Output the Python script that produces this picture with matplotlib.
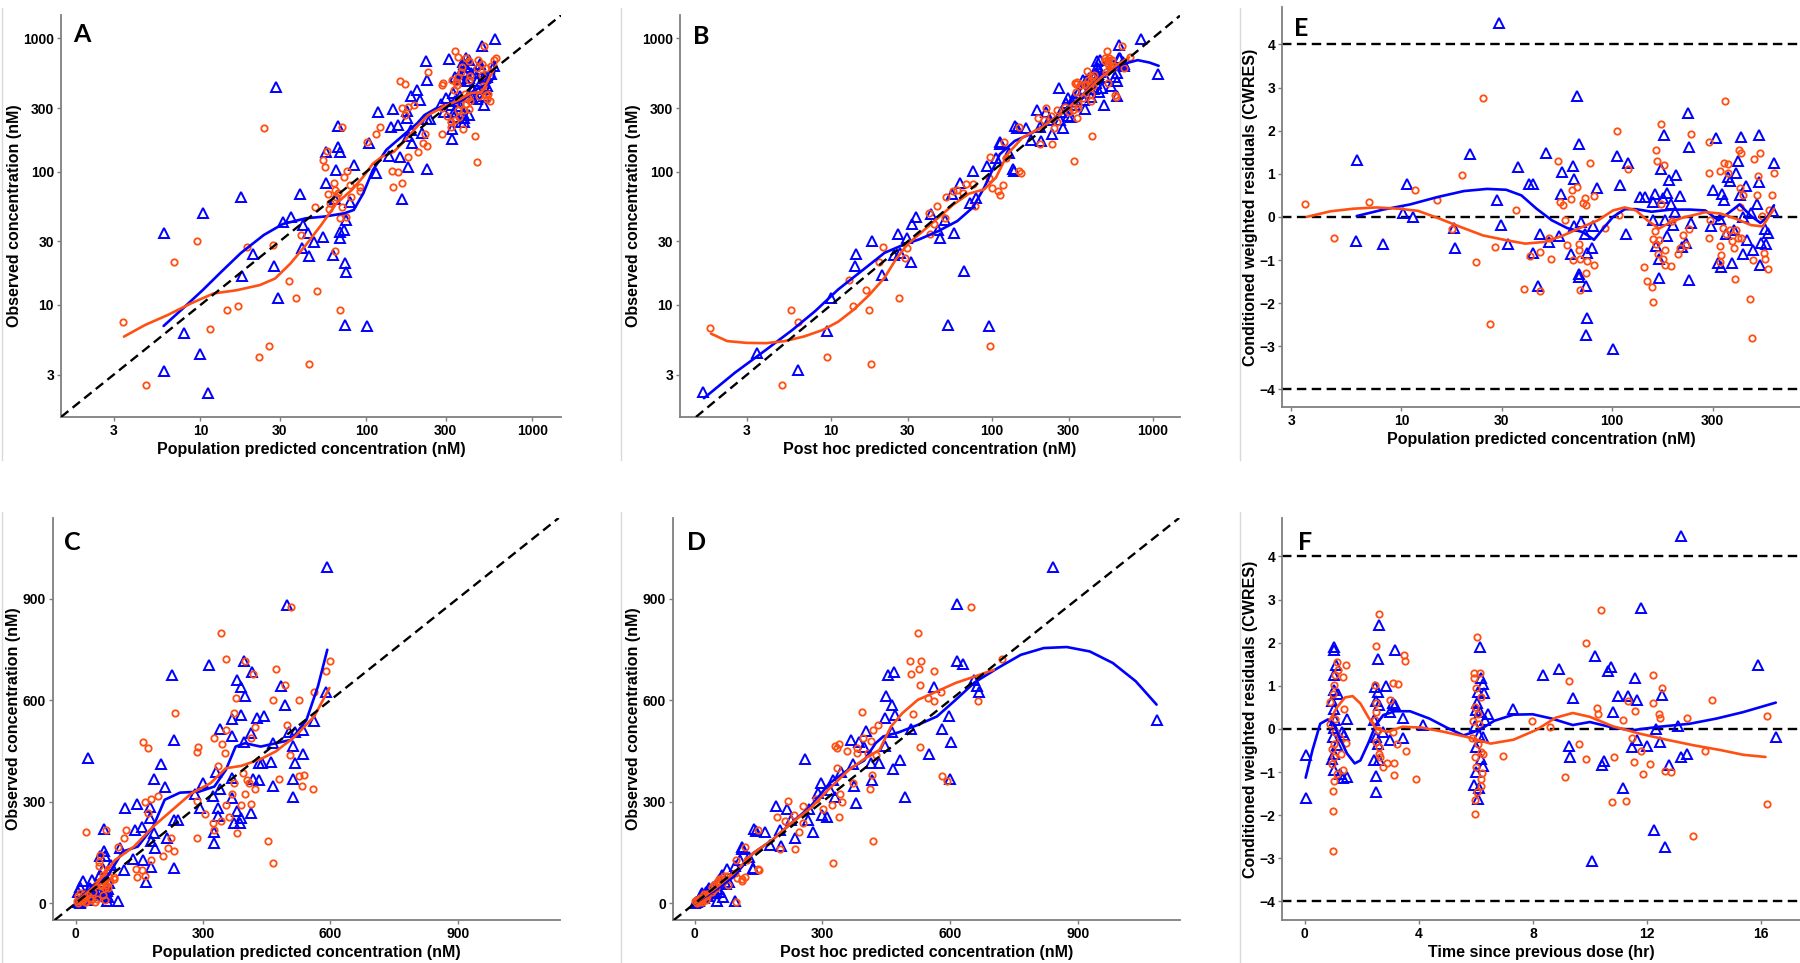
import matplotlib
matplotlib.use("Agg")
import matplotlib.pyplot as plt
from matplotlib.lines import Line2D

plt.rcParams['font.family'] = ['Liberation Sans', 'DejaVu Sans']
plt.rcParams['font.weight'] = 'bold'

BLUE = "#0000FF"
ORANGE = "#FF4F12"

# ---- population predictions vs observed (panels A and C) ----
pop_pred_blue = [6.0, 6.0, 8.0, 10.0, 10.4, 11.1, 17.5, 17.8, 20.7, 27.9, 28.5, 29.4, 31.4, 35.3,
                 39.9, 41.4, 41, 44.4, 45, 48.5, 54.8, 57.2, 57.2, 63.3, 64.3, 65.3, 67.1, 67.8,
                 69.6, 69, 69.6, 73.5, 75.4, 74.7, 75.4, 74.3, 79.5, 83.9, 101, 104, 115, 117,
                 593, 497, 314, 397, 416, 228, 381, 390, 399, 483, 493, 591, 562, 390, 368, 428,
                 444, 341, 413, 535, 517, 503, 368, 397, 233, 464, 513, 535, 432, 439, 461, 518,
                 201, 332, 417, 433, 512, 464, 368, 186, 210, 300, 512, 282, 323, 341, 368, 145,
                 176, 293, 336, 381, 413, 335, 390, 374, 388, 176, 233, 242, 140, 156, 186, 215,
                 178, 327, 327, 233, 136, 160, 177, 165, 188]
obs_blue = [34.5, 3.2, 6.2, 4.3, 49, 2.2, 65, 16.6, 24.1, 19.7, 429, 11.2, 42, 45.4,
            68, 39.8, 26.6, 34.5, 23.4, 29.9, 32.2, 140, 82.7, 23.9, 62, 103, 220, 154,
            141, 31.6, 35.5, 36.5, 43.4, 20.8, 17.8, 7.1, 59.6, 112, 7.0, 163, 97.2, 282,
            993, 882, 705, 715, 682, 673, 661, 638, 613, 643, 587, 623, 540, 555, 544, 547,
            552, 515, 503, 513, 505, 506, 493, 478, 483, 475, 466, 441, 416, 416, 419, 416,
            411, 389, 367, 363, 367, 348, 370, 367, 345, 357, 314, 323, 316, 337, 311, 294,
            286, 281, 281, 274, 268, 258, 251, 237, 237, 251, 247, 247, 217, 225, 207, 194,
            185, 210, 177, 105, 130, 128, 108, 62, 163]
pop_pred_orange = [3.4, 4.7, 6.9, 9.6, 11.4, 14.5, 16.8, 19.0, 22.4, 24.0, 25.8, 27.5, 34.4, 37.4,
                   40.5, 45.1, 49.3, 50.6, 54.8, 56.3, 57.8, 58.4, 59.4, 60, 63.7, 64.3, 64.7, 66,
                   67.8, 69, 70.8, 69.6, 71.5, 73.5, 76.7, 75.4, 79.5, 80.9, 90.9, 101,
                   508, 343, 354, 600, 399, 472, 589, 417, 494, 562, 377, 464, 526, 235, 374, 354,
                   422, 498, 327, 413, 345, 289, 286, 352, 505, 160, 170, 336, 395, 404, 408, 539,
                   526, 479, 533, 559, 374, 398, 422, 368, 286, 305, 354, 390, 413, 361, 343, 323,
                   325, 381, 286, 454, 464, 163, 177, 194, 170, 120, 115, 142, 145, 156, 163, 178,
                   206, 233, 91, 224, 219]
obs_orange = [7.4, 2.5, 21.1, 30.4, 6.6, 9.2, 9.8, 27.1, 4.05, 211, 4.9, 28.2, 15.2, 11.2,
              33.5, 3.6, 54, 12.8, 122, 109, 144, 67.6, 52.6, 57.9, 82.7, 72.9, 25.6, 65,
              68.9, 44.7, 217, 9.2, 54.7, 91.7, 101.7, 45.4, 79.4, 65, 72, 168,
              876, 797, 723, 715, 715, 693, 687, 678, 646, 624, 606, 600, 600, 562, 562, 513,
              521, 528, 488, 488, 470, 463, 447, 444, 439, 478, 458, 407, 385, 363, 355, 380,
              375, 368, 348, 338, 355, 323, 338, 323, 301, 263, 291, 291, 293, 256, 244, 237,
              217, 209, 192, 185, 118, 298, 308, 317, 268, 217, 192, 101, 77, 99, 82, 128,
              141, 156, 77, 192, 163]

# loess lines, panel A (log scale) and panel C (linear scale)
smoothA_blue_x = [6.0, 7.9, 10.3, 13.4, 17.5, 24.1, 31.4, 43.2, 56.3, 73.5, 83.9, 95.8, 109.5, 131.8,
                  163, 202, 224, 263, 325, 381, 448, 525, 584, 594]
smoothA_blue_y = [6.96, 9.5, 12.9, 17.8, 24.5, 33.5, 40.5, 44.7, 46.1, 48.7, 51.6, 68.8, 103, 145.6,
                  183, 230, 266, 298, 316, 345, 409, 447, 501, 660]
smoothA_orange_x = [3.46, 4.64, 6.34, 8.8, 12.0, 16.5, 22.8, 28.2, 34.9, 43.2, 53.4, 66.1, 81.7, 95.8,
                    109.5, 125, 146.6, 172, 202, 236, 292, 361, 424, 498, 584, 606]
smoothA_orange_y = [5.79, 7.08, 8.4, 10.3, 12.2, 12.9, 14.1, 15.8, 20.5, 28.2, 39.8, 57.9, 72.9, 91.7,
                    115, 130, 141, 173, 218, 266, 307, 345, 387, 398, 579, 632]
smoothC_blue_x = [2.7, 39, 75, 111, 147, 183, 210, 246, 291, 327, 354, 377, 399, 436, 472, 508, 544, 571, 593]
smoothC_blue_y = [5, 49, 79, 153, 168, 227, 306, 327, 330, 345, 394, 463, 473, 463, 473, 483, 542, 641, 749]
smoothC_orange_x = [2.7, 48, 93, 138, 183, 228, 273, 318, 354, 390, 436, 472, 517, 562, 598]
smoothC_orange_y = [5, 54, 128, 168, 227, 276, 325, 355, 399, 406, 426, 449, 493, 552, 636]

# ---- post hoc predictions vs observed (panels B and D) ----
ipred_blue = [1.6, 3.44, 6.24, 9.4, 10.05, 14.1, 14.4, 18.0, 20.7, 24.8, 26.0, 26.7, 29.8, 31.5,
              31.9, 33.7, 42.0, 46.4, 47.7, 51.2, 53.2, 56.2, 58.4, 63.4, 66.9, 72.7, 76.0, 79.4,
              93.6, 95.7, 106, 112, 137, 143,
              841, 616, 1087, 616, 631, 454, 468, 449, 463, 562, 657, 667, 662, 447, 470, 598,
              508, 580, 463, 402, 368, 386, 398, 447, 602, 551, 483, 434, 414, 371, 465, 600,
              416, 495, 260, 344, 326, 297, 375, 378, 317, 290, 330, 299, 310, 268, 216, 191,
              236, 278, 200, 164, 140, 136, 112, 128, 176, 203, 227, 266]
obs2_blue = [2.24, 4.36, 3.27, 6.34, 11.3, 19.5, 24.2, 30.1, 16.9, 23.9, 33.8, 24.4, 31.6, 21.1,
             40.2, 45.6, 47.8, 36.8, 31.9, 43.1, 7.1, 68.4, 34.8, 82.7, 18.1, 58.5, 101, 63.8,
             110, 7.0, 127, 160, 102, 214,
             994, 884, 542, 715, 708, 673, 682, 613, 587, 638, 660, 623, 641, 547, 555, 554,
             515, 515, 505, 508, 483, 478, 463, 466, 476, 441, 422, 416, 416, 411, 396, 368,
             365, 315, 426, 389, 365, 357, 347, 296, 335, 327, 315, 261, 256, 278, 279, 289,
             192, 212, 217, 212, 219, 105, 166, 138, 173, 170, 246, 246]
ipred_orange = [1.76, 4.92, 5.65, 6.24, 9.5, 12.9, 13.7, 16.6, 17.3, 17.8, 20.0, 20.9, 26.3, 29.0,
                29.8, 40.4, 41.1, 43.4, 45.6, 50.9, 51.7, 57.1, 61.0, 66.2, 69.2, 76.8, 78.1, 95.7,
                97.3, 100, 112, 117, 123, 151,
                649, 524, 506, 532, 721, 528, 562, 508, 530, 578, 548, 562, 666, 393, 512, 419,
                430, 396, 413, 329, 338, 335, 357, 382, 382, 407, 426, 530, 580, 592, 416, 411,
                335, 371, 342, 345, 322, 301, 284, 254, 340, 326, 419, 218, 193, 212, 234, 254,
                245, 236, 200, 148, 148, 110, 97, 119]
obs2_orange = [6.7, 2.52, 9.2, 7.45, 4.1, 15.5, 9.9, 13.0, 9.2, 3.6, 21.1, 27.1, 11.3, 22.6,
               26.8, 49.2, 33.8, 40.6, 55.2, 45.1, 64.5, 71.6, 72.4, 69.6, 81.2, 81.2, 55.2, 90.1,
               4.9, 75.8, 66.8, 79.4, 127, 98.3,
               875, 797, 715, 715, 723, 693, 687, 678, 646, 623, 606, 599, 599, 565, 560, 513,
               527, 488, 481, 465, 470, 458, 449, 458, 444, 444, 439, 463, 375, 360, 380, 338,
               399, 355, 323, 299, 291, 278, 308, 288, 254, 120, 185, 301, 254, 244, 261, 237,
               212, 160, 160, 217, 101, 71, 128, 168]

smoothB_blue_x = [1.62, 2.52, 3.93, 5.75, 7.97, 11.1, 15.5, 21.5, 28.4, 35.2, 46.4, 61.0, 76.0, 89.6,
                  112, 139, 173, 216, 269, 335, 417, 520, 647, 808, 952, 1090]
smoothB_blue_y = [2.0, 3.1, 4.6, 6.5, 9.0, 13.1, 18.0, 24.6, 28.4, 31.0, 35.8, 42.6, 53.7, 75.8,
                  135, 170, 191, 227, 270, 339, 440, 555, 639, 686, 659, 622]
smoothB_orange_x = [1.79, 2.26, 2.97, 3.93, 5.15, 6.78, 8.9, 11.1, 13.8, 17.3, 21.5, 25.3, 29.8, 37.2,
                    46.4, 57.8, 71.9, 89.6, 106, 125, 155, 204, 269, 354, 465, 580, 715]
smoothB_orange_y = [6.1, 5.36, 5.2, 5.17, 5.36, 5.8, 6.5, 7.5, 9.2, 11.9, 16.0, 22.0, 28.4, 35.8,
                    45.1, 56.8, 68.3, 73.6, 90, 135, 180, 215, 270, 360, 495, 615, 720]
smoothD_blue_x = [0, 48, 92, 137, 182, 227, 272, 317, 362, 398, 425, 443, 479, 524, 569, 613, 658,
                  712, 766, 820, 874, 928, 982, 1036, 1085]
smoothD_blue_y = [0, 39, 79, 148, 187, 237, 286, 355, 396, 422, 473, 493, 505, 527, 552, 601, 653,
                  695, 734, 754, 757, 744, 710, 656, 587]
smoothD_orange_x = [0, 48, 92, 137, 182, 227, 272, 317, 362, 407, 434, 461, 488, 524, 569, 613, 658, 703]
smoothD_orange_y = [0, 44, 89, 148, 187, 237, 281, 340, 394, 434, 453, 522, 562, 601, 626, 651, 670, 690]

# ---- CWRES vs population prediction (panel E) ----
e_pred_blue = [6.13, 6.08, 8.2, 10.6, 10.2, 11.3, 17.8, 18.0, 21.2, 28.3, 29.0, 29.7, 32.0, 35.7,
               40.3, 42.0, 42.0, 44.5, 45.7, 48.3, 50.3, 55.9, 57.5, 58.0, 63.9, 65.2, 65.8, 66.0,
               68.0, 69.5, 70.0, 71.0, 70.0, 74.0, 74.9, 76.2, 74.9, 76.2, 80.4, 81.1, 84.6, 101,
               105, 109, 116, 119, 136, 143, 156, 157, 159, 161, 167, 167, 171, 176, 174, 178,
               183, 183, 186, 191, 194, 198, 202, 209, 215, 224, 229, 231, 232, 236, 295, 301,
               313, 320, 329, 324, 333, 340, 347, 355, 362, 371, 378, 386, 395, 403, 411, 417,
               420, 430, 439, 457, 466, 486, 496, 496, 506, 511, 531, 535, 552, 578, 589]
e_cwres_blue = [1.33, -0.56, -0.64, 0.77, 0.08, 0.0, -0.26, -0.72, 1.45, 0.39, 4.49, -0.19, -0.64, 1.16,
                0.77, 0.77, -0.83, -1.61, -0.39, 1.49, -0.58, -0.44, 0.54, 1.04, -0.87, 1.18, 0.87, -0.21,
                2.80, 1.68, -1.32, -0.12, -1.39, -0.39, -1.61, -2.34, -2.73, -0.84, -0.71, -0.21, 0.68, -3.07,
                1.41, 0.74, -0.40, 1.26, 0.46, 0.46, -0.08, 0.35, 0.54, -0.68, -1.41, -0.97, 1.12, 1.90, 0.43, -0.08,
                0.56, -0.44, 0.85, 0.29, -0.19, 0.12, 0.98, 0.49, -0.70, -0.60, 2.42, 1.62, -1.47, -0.13, -0.22, 0.63,
                1.84, -1.08, -1.16, -0.05, 0.54, 0.40, -0.39, 0.93, 0.83, -1.08, -0.31, 1.01, 1.30, 0.50, 1.86, 0.0,
                -0.85, 0.72, -0.54, 0.08, -0.76, 0.29, 1.91, 0.81, -1.12, -0.60, -0.27, -0.64, -0.37, 0.14, 1.24]
e_pred_orange = [3.47, 4.8, 7.0, 11.6, 14.8, 17.3, 19.4, 22.6, 24.4, 26.2, 27.9, 34.8, 38.1, 40.8,
                 45.3, 45.7, 50.1, 51.4, 55.2, 56.8, 58.7, 60.0, 61.3, 63.9, 64.6, 65.2, 68.0, 70.0,
                 70.0, 70.3, 70.3, 72.4, 74.0, 75.5, 75.5, 76.2, 78.8, 82.1, 82.1, 92.3, 105, 108,
                 119, 142, 146, 154, 156, 157, 159, 161, 162, 164, 166, 167, 170, 171, 174, 176,
                 178, 179, 191, 193, 206, 210, 216, 224, 232, 237, 289, 289, 289, 291, 324, 324,
                 326, 329, 336, 340, 343, 347, 355, 355, 362, 371, 378, 383, 386, 395, 400, 403,
                 407, 411, 411, 420, 453, 461, 466, 470, 486, 492, 506, 515, 525, 531, 552, 556,
                 572, 586]
e_cwres_orange = [0.31, -0.48, 0.35, 0.62, 0.40, -0.27, 0.97, -1.04, 2.75, -2.48, -0.70, 0.15, -1.68, -0.91,
                  -0.81, -1.73, -0.50, -0.98, 1.30, 0.35, 0.27, -0.08, -0.66, 0.41, 0.63, -1.01, 0.70, -0.62,
                  -0.76, -0.97, -1.69, 0.33, 0.43, 0.27, -1.30, -1.03, 1.25, 0.48, -1.12, -0.25, 1.99, 0.04,
                  1.11, -1.16, -1.49, -1.62, -1.97, -0.52, -0.32, -0.64, 1.56, 1.29, -0.85, -0.54, 2.15, 0.29, -0.97, 1.21,
                  -1.11, -0.77, -1.14, -0.09, -0.87, -0.71, -0.43, -0.66, -0.29, 1.93, 1.74, 1.02, -0.50, -0.08, -1.04, -0.68,
                  1.07, -0.89, -0.25, 1.26, 2.69, -0.39, 1.22, 1.01, -0.31, -0.56, -0.71, -1.43, -0.31, -0.48, 1.56, 0.66,
                  0.23, 1.49, -0.48, 0.50, -1.90, -2.82, -1.01, 1.35, 0.50, 0.94, 1.49, 0.02, -0.83, -0.97, -1.21, 0.15,
                  0.50, 1.02]
smoothE_blue_x = [6.13, 8.2, 11.0, 14.8, 19.8, 25.5, 31.4, 37.1, 43.8, 51.8, 61.3, 72.4, 82.1, 89.3,
                  101, 115, 130, 154, 190, 234, 277, 320, 355, 403, 457, 506, 549, 587]
smoothE_blue_y = [0.02, 0.17, 0.29, 0.46, 0.60, 0.65, 0.63, 0.50, 0.19, -0.08, -0.26, -0.35, -0.53, -0.31,
                  0.0, 0.18, 0.18, 0.12, 0.17, 0.17, 0.15, -0.08, 0.08, 0.29, 0.02, -0.14, 0.0, 0.27]
smoothE_orange_x = [3.55, 4.6, 5.9, 7.6, 9.7, 12.0, 14.8, 19.0, 24.4, 31.4, 38.7, 47.7, 58.7, 72.4, 85.6,
                    101, 115, 130, 147, 167, 190, 215, 243, 277, 326, 386, 457, 518, 587]
smoothE_orange_y = [0.0, 0.13, 0.19, 0.22, 0.19, 0.14, -0.02, -0.23, -0.43, -0.54, -0.62, -0.58, -0.43, -0.23, -0.08,
                    0.15, 0.22, 0.15, -0.08, -0.27, -0.12, -0.02, 0.04, 0.11, 0.08, -0.04, -0.19, -0.22, 0.19]

# ---- CWRES vs time since previous dose (panel F) ----
f_time_blue = [0.03, 0.03, 1.01, 1.03, 1.10, 1.01, 1.03, 1.17, 0.94, 1.01, 1.07, 1.03, 0.98, 1.14,
               1.01, 0.97, 1.03, 1.25, 1.34, 1.48, 1.30, 1.38, 1.48,
               2.59, 2.55, 2.46, 2.55, 2.49, 2.62, 2.42, 2.49, 2.55, 2.42, 2.62, 2.49, 2.51, 2.86,
               2.98, 2.98, 3.09, 3.16, 3.18, 2.75, 3.43, 3.43, 4.16,
               6.15, 6.18, 6.25, 6.27, 6.07, 6.05, 6.00, 6.14, 6.31, 6.41, 5.98, 6.11, 6.00, 6.18,
               6.25, 6.00, 5.95, 6.11, 6.07, 6.25,
               7.32, 8.37, 8.93, 9.27, 9.31, 9.40, 10.08, 10.17, 10.41, 10.51, 10.65, 10.75, 10.81,
               10.99, 11.15, 11.35, 11.46, 11.58, 11.66, 11.66, 11.78, 12.0, 12.26, 12.32, 12.47,
               12.53, 12.65, 12.76, 13.10, 13.21, 13.21, 13.41, 15.89, 16.52]
f_cwres_blue = [-0.60, -1.59, 1.90, 1.84, 1.48, 1.24, 0.91, 0.82, 0.65, 0.47, 0.20, 0.01, -0.19, -0.38,
                -0.57, -0.69, -0.96, -1.04, -1.13, -1.11, -0.07, -0.15, 0.24,
                2.42, 1.62, 0.97, 0.86, 0.65, 0.55, 0.20, -0.19, -0.36, -0.73, -0.73, -1.10, -1.46, 0.99,
                0.39, -0.25, 0.59, 1.82, 0.55, -0.07, 0.26, -0.22, 0.09,
                1.89, 1.17, 1.05, 0.84, 0.86, 0.61, 0.43, 0.39, 0.20, 0.34, 0.06, -0.15, -0.42, -0.70,
                -0.87, -1.00, -1.31, -1.37, -1.62, -0.19,
                0.46, 1.26, 1.38, -0.40, -0.65, 0.72, -3.07, 1.68, -0.84, -0.74, 1.34, 1.44, 0.39,
                0.77, -1.38, 0.77, -0.43, 1.17, -0.25, 0.66, 2.81, -0.39, -2.35, -0.01, -0.30,
                0.78, -2.74, -0.84, 0.07, 4.47, -0.65, -0.57, 1.49, -0.19]
f_time_orange = [0.98, 0.98, 0.98, 1.01, 0.94, 1.03, 0.94, 1.01, 0.90, 0.87, 0.98, 1.01, 1.07, 1.14,
                 1.17, 1.34, 1.44, 1.38, 1.28, 1.34, 1.14, 1.07, 1.05, 1.25, 1.44,
                 2.59, 2.49, 2.46, 2.51, 2.49, 2.46, 2.55, 2.51, 2.59, 2.65, 2.62, 2.73, 2.89, 2.98,
                 3.09, 3.26, 3.13, 3.12, 3.09, 3.22, 3.49, 3.52, 3.56, 3.90,
                 6.05, 5.95, 6.15, 5.95, 6.00, 6.18, 5.98, 6.09, 5.91, 6.11, 5.87, 6.09, 6.18, 5.98,
                 6.25, 6.00, 6.22, 6.18, 6.18, 6.05, 5.98, 5.98,
                 6.96, 7.97, 8.60, 9.13, 9.27, 9.63, 9.85, 9.85, 10.24, 10.30, 10.38, 10.79, 10.85,
                 11.15, 11.26, 11.32, 11.46, 11.55, 11.58, 11.78, 11.85, 12.12, 12.22, 12.22, 12.43,
                 12.47, 12.53, 12.63, 12.83, 13.39, 13.61, 14.04, 14.27, 16.21, 16.21]
f_cwres_orange = [-2.84, -1.91, -1.45, -1.21, -0.82, -0.65, -0.46, -0.34, 0.12, 0.63, 0.82, 1.01, 1.24, 1.55,
                  1.36, 1.21, 1.48, 0.47, -0.57, -0.96, -1.04, 0.22, -0.07, -0.22, -0.32,
                  2.67, 1.92, 1.01, 0.59, 0.39, 0.20, -0.03, -0.30, -0.57, -0.65, -0.42, -0.88, -0.80, 0.66,
                  1.07, 1.03, -1.07, -0.78, -0.07, -0.34, 1.72, 1.57, -0.52, -1.17,
                  2.13, 1.30, 1.30, 1.19, 0.94, 0.74, 0.51, 0.34, 0.18, 0.12, -0.20, -0.34, -0.53, -0.65,
                  -0.57, -0.88, -1.02, -1.15, -1.33, -1.46, -1.65, -1.98,
                  -0.63, 0.18, 0.05, -1.11, 1.11, -0.36, 1.99, -0.69, 0.49, 0.34, 2.75, -1.69, -0.65,
                  0.20, -1.68, 0.65, -0.22, -0.77, 0.41, -0.52, -1.05, -0.82, 1.24, 0.61, 0.34,
                  0.26, 0.96, -0.97, -1.00, 0.26, -2.48, -0.51, 0.68, 0.30, -1.73]
smoothF_blue_x = [0.03, 0.27, 0.54, 0.81, 1.01, 1.21, 1.48, 1.75, 1.95, 2.22, 2.49, 2.75, 3.16, 3.69,
                  4.37, 5.04, 5.57, 6.11, 6.65, 7.32, 7.99, 8.66, 9.40, 10.0, 10.81, 11.49, 12.43,
                  13.50, 14.44, 15.38, 16.52]
smoothF_blue_y = [-1.13, -0.49, 0.12, 0.22, 0.12, -0.19, -0.57, -0.80, -0.73, -0.34, 0.09, 0.32, 0.41, 0.41,
                  0.24, 0.01, -0.15, -0.03, 0.19, 0.33, 0.34, 0.24, 0.09, 0.16, 0.03, -0.03, 0.05,
                  0.12, 0.24, 0.39, 0.61]
smoothF_orange_x = [0.87, 1.14, 1.41, 1.68, 1.95, 2.22, 2.49, 2.89, 3.43, 4.10, 4.90, 5.71, 6.52, 7.32,
                    8.13, 8.80, 9.40, 10.0, 10.81, 11.75, 12.69, 13.64, 14.58, 15.38, 16.16]
smoothF_orange_y = [0.20, 0.51, 0.73, 0.76, 0.59, 0.28, 0.01, -0.07, 0.05, 0.03, -0.07, -0.19, -0.34, -0.25,
                    -0.02, 0.26, 0.37, 0.28, 0.06, -0.11, -0.25, -0.38, -0.49, -0.60, -0.65]

W, H = 1800, 963
fig = plt.figure(figsize=(18, 9.63), dpi=100)


def add_axes_px(left, top, right, bottom):
    return fig.add_axes([left / W, 1 - bottom / H, (right - left) / W, (bottom - top) / H])


def style_axes(ax, xlabel, ylabel):
    for s in ["top", "right"]:
        ax.spines[s].set_visible(False)
    for s in ["left", "bottom"]:
        ax.spines[s].set_color("#7f7f7f")
        ax.spines[s].set_linewidth(1.3)
    ax.tick_params(which="major", length=3, width=1.0, color="#7f7f7f",
                   labelsize=10, labelcolor="black", pad=2)
    ax.tick_params(which="minor", length=0)
    for lab in ax.get_xticklabels() + ax.get_yticklabels():
        lab.set_fontweight("bold")
    ax.set_xlabel(xlabel, fontsize=11.5, fontweight="bold", labelpad=3)
    ax.set_ylabel(ylabel, fontsize=11.5, fontweight="bold", labelpad=1)
    ax.set_facecolor("white")


def scatter_pair(ax, xb, yb, xo, yo):
    ax.plot(xb, yb, linestyle="none", marker="^", markersize=6.5, markerfacecolor="none",
            markeredgecolor=BLUE, markeredgewidth=1.4, zorder=3)
    ax.plot(xo, yo, linestyle="none", marker="o", markersize=4.6, markerfacecolor="none",
            markeredgecolor=ORANGE, markeredgewidth=1.3, zorder=3)


def smooth_pair(ax, bx, by, ox, oy):
    ax.plot(bx, by, color=BLUE, lw=1.9, zorder=4, solid_capstyle="round")
    ax.plot(ox, oy, color=ORANGE, lw=1.9, zorder=4, solid_capstyle="round")


DASH = (0, (4, 2.3))
log_ticks = [3, 10, 30, 100, 300, 1000]

# Panel A
axA = add_axes_px(61, 15, 561, 417)
axA.set_xscale("log")
axA.set_yscale("log")
axA.set_xlim(1.445, 1488)
axA.set_ylim(1.445, 1496)
axA.axline((1, 1), (1000, 1000), color="black", lw=1.7, linestyle=DASH, zorder=5)
scatter_pair(axA, pop_pred_blue, obs_blue, pop_pred_orange, obs_orange)
smooth_pair(axA, smoothA_blue_x, smoothA_blue_y, smoothA_orange_x, smoothA_orange_y)
axA.set_xticks(log_ticks, [str(t) for t in log_ticks])
axA.set_yticks(log_ticks, [str(t) for t in log_ticks])
style_axes(axA, "Population predicted concentration (nM)", "Observed concentration (nM)")

# Panel B
axB = add_axes_px(680, 15, 1180, 417)
axB.set_xscale("log")
axB.set_yscale("log")
axB.set_xlim(1.15, 1480)
axB.set_ylim(1.445, 1496)
axB.axline((1, 1), (1000, 1000), color="black", lw=1.7, linestyle=DASH, zorder=5)
scatter_pair(axB, ipred_blue, obs2_blue, ipred_orange, obs2_orange)
smooth_pair(axB, smoothB_blue_x, smoothB_blue_y, smoothB_orange_x, smoothB_orange_y)
axB.set_xticks(log_ticks, [str(t) for t in log_ticks])
axB.set_yticks(log_ticks, [str(t) for t in log_ticks])
style_axes(axB, "Post hoc predicted concentration (nM)", "Observed concentration (nM)")

# Panel E
axE = add_axes_px(1282, 7, 1800, 407)
axE.set_xscale("log")
axE.set_xlim(2.71, 780)
axE.set_ylim(-4.41, 4.87)
for yv in [4, 0, -4]:
    axE.axhline(yv, color="black", lw=1.7, linestyle=DASH, zorder=2)
scatter_pair(axE, e_pred_blue, e_cwres_blue, e_pred_orange, e_cwres_orange)
smooth_pair(axE, smoothE_blue_x, smoothE_blue_y, smoothE_orange_x, smoothE_orange_y)
axE.set_xticks([3, 10, 30, 100, 300], ["3", "10", "30", "100", "300"])
axE.set_yticks([-4, -3, -2, -1, 0, 1, 2, 3, 4])
style_axes(axE, "Population predicted concentration (nM)", "Conditioned weighted residuals (CWRES)")

# Panel C
axC = add_axes_px(53, 518, 560, 920)
axC.set_xlim(-53, 1141)
axC.set_ylim(-49, 1138)
axC.axline((0, 0), (900, 900), color="black", lw=1.7, linestyle=DASH, zorder=5)
scatter_pair(axC, pop_pred_blue, obs_blue, pop_pred_orange, obs_orange)
smooth_pair(axC, smoothC_blue_x, smoothC_blue_y, smoothC_orange_x, smoothC_orange_y)
axC.set_xticks([0, 300, 600, 900])
axC.set_yticks([0, 300, 600, 900])
style_axes(axC, "Population predicted concentration (nM)", "Observed concentration (nM)")

# Panel D
axD = add_axes_px(673, 518, 1180, 920)
axD.set_xlim(-51, 1140)
axD.set_ylim(-49, 1138)
axD.axline((0, 0), (900, 900), color="black", lw=1.7, linestyle=DASH, zorder=5)
scatter_pair(axD, ipred_blue, obs2_blue, ipred_orange, obs2_orange)
smooth_pair(axD, smoothD_blue_x, smoothD_blue_y, smoothD_orange_x, smoothD_orange_y)
axD.set_xticks([0, 300, 600, 900])
axD.set_yticks([0, 300, 600, 900])
style_axes(axD, "Post hoc predicted concentration (nM)", "Observed concentration (nM)")

# Panel F
axF = add_axes_px(1282, 518, 1800, 920)
axF.set_xlim(-0.80, 17.37)
axF.set_ylim(-4.43, 4.89)
for yv in [4, 0, -4]:
    axF.axhline(yv, color="black", lw=1.7, linestyle=DASH, zorder=2)
scatter_pair(axF, f_time_blue, f_cwres_blue, f_time_orange, f_cwres_orange)
smooth_pair(axF, smoothF_blue_x, smoothF_blue_y, smoothF_orange_x, smoothF_orange_y)
axF.set_xticks([0, 4, 8, 12, 16])
axF.set_yticks([-4, -3, -2, -1, 0, 1, 2, 3, 4])
style_axes(axF, "Time since previous dose (hr)", "Conditioned weighted residuals (CWRES)")

# panel letters
letters = [("A", 82, 35), ("B", 701, 37), ("E", 1301, 28),
           ("C", 72, 542), ("D", 697, 542), ("F", 1305, 542)]
for txt, px, py in letters:
    fig.text(px / W, 1 - py / H, txt, fontsize=18, fontweight="bold",
             family=["Lato", "DejaVu Sans"], ha="center", va="center")

# thin panel separators
for xs in [2, 621, 1240]:
    fig.add_artist(Line2D([xs / W, xs / W], [1 - 8 / H, 1 - 460 / H],
                          color="#d9d9d9", lw=1.0, transform=fig.transFigure))
    fig.add_artist(Line2D([xs / W, xs / W], [1 - 512 / H, 0],
                          color="#d9d9d9", lw=1.0, transform=fig.transFigure))

fig.savefig("out.png", dpi=100, facecolor="white")
plt.close(fig)
